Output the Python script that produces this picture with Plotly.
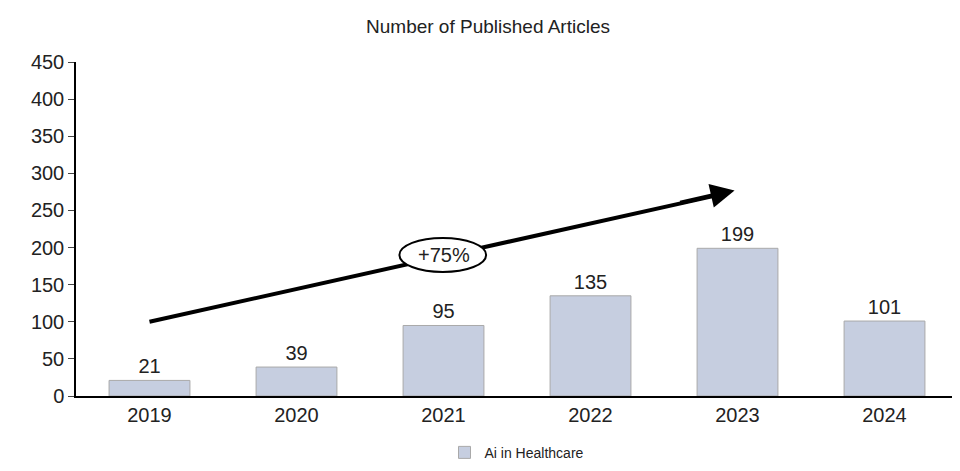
import plotly.graph_objects as go

years = ["2019", "2020", "2021", "2022", "2023", "2024"]
articles = [21, 39, 95, 135, 199, 101]

fig = go.Figure()
fig.add_trace(go.Bar(
    x=years, y=articles, name="Ai in Healthcare",
    marker=dict(color="#c6cee0", line=dict(color="#a9a9a9", width=1)),
    text=[str(v) for v in articles], textposition="outside",
    textfont=dict(size=20, color="#222"), cliponaxis=False, width=0.55,
))
fig.add_shape(type="line", xref="x", yref="y", x0=0, y0=100, x1=3.85, y1=270,
              line=dict(color="black", width=4))
fig.add_shape(type="circle", xref="x", yref="y", x0=1.7, x1=2.29, y0=167, y1=213,
              line=dict(color="black", width=2), fillcolor="white")
fig.add_annotation(x=3.98, y=277, ax=3.6, ay=260, xref="x", yref="y", axref="x", ayref="y",
                   showarrow=True, arrowhead=2, arrowsize=1.2, arrowwidth=4, arrowcolor="black", text="")
fig.add_annotation(x=2.0, y=190, xref="x", yref="y", text="+75%", showarrow=False,
                   font=dict(size=20, color="#222"))
fig.update_layout(
    width=960, height=471, plot_bgcolor="white", paper_bgcolor="white",
    font=dict(family="Liberation Sans, Arial", color="#222"),
    title=dict(text="Number of Published Articles", x=0.5, xanchor="center", y=0.96,
               yanchor="middle", font=dict(size=19)),
    margin=dict(l=68, r=10, t=54, b=73),
    showlegend=True,
    legend=dict(orientation="h", x=0.5, xanchor="center", y=-0.17, yanchor="middle",
                font=dict(size=14)),
    bargap=0.45,
)
fig.update_yaxes(range=[0, 450], dtick=50, showline=True, linecolor="black", linewidth=1.5,
                 ticks="outside", ticklen=6, tickfont=dict(size=20), showgrid=False, zeroline=False)
fig.update_xaxes(showline=True, linecolor="black", linewidth=1.5, ticks="", tickfont=dict(size=20))
fig.write_html("out.html")
